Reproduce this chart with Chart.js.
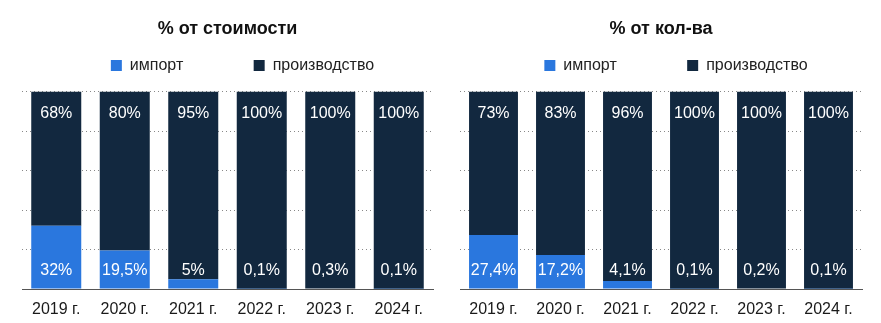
<!DOCTYPE html>
<html>
<head>
<meta charset="utf-8">
<script src="https://cdn.jsdelivr.net/npm/chart.js@4"></script>
<style>
  body { margin: 0; background: #fff; }
  .box { position: absolute; top: 0; height: 323px; }
</style>
</head>
<body>
<div class="box" style="left:0;width:440px"><canvas id="left" width="440" height="323"></canvas></div>
<div class="box" style="left:440px;width:441px"><canvas id="right" width="441" height="323"></canvas></div>
<script>
// data
var years = ["2019 г.", "2020 г.", "2021 г.", "2022 г.", "2023 г.", "2024 г."];

var costImport = [32, 19.5, 5, 0.1, 0.3, 0.1];
var costProd = [68, 80.5, 95, 99.9, 99.7, 99.9];
var costImportLabels = ["32%", "19,5%", "5%", "0,1%", "0,3%", "0,1%"];
var costProdLabels = ["68%", "80%", "95%", "100%", "100%", "100%"];

var qtyImport = [27.4, 17.2, 4.1, 0.1, 0.2, 0.1];
var qtyProd = [72.6, 82.8, 95.9, 99.9, 99.8, 99.9];
var qtyImportLabels = ["27,4%", "17,2%", "4,1%", "0,1%", "0,2%", "0,1%"];
var qtyProdLabels = ["73%", "83%", "96%", "100%", "100%", "100%"];

var blue = "#2a77de";
var navy = "#12283f";
var sans = "'Liberation Sans', Arial, sans-serif";

// white labels: import near the bottom, production near the top
var barLabels = {
    id: "barLabels",
    afterDatasetsDraw(chart, args, opts) {
        var ctx = chart.ctx;
        var y = chart.scales.y;
        ctx.save();
        ctx.fillStyle = "#fff";
        ctx.font = "16px " + sans;
        ctx.textAlign = "center";
        ctx.textBaseline = "middle";
        chart.getDatasetMeta(0).data.forEach(function (bar, i) {
            ctx.fillText(opts.bottom[i], bar.x, y.getPixelForValue(0) - 18);
        });
        chart.getDatasetMeta(1).data.forEach(function (bar, i) {
            ctx.fillText(opts.top[i], bar.x, y.getPixelForValue(100) + 22);
        });
        ctx.restore();
    }
};

// extra gap under the legend, and legend a bit right of the plot centre
var legendTweak = {
    id: "legendTweak",
    beforeInit(chart) {
        var fit = chart.legend.fit;
        chart.legend.fit = function () {
            fit.bind(chart.legend)();
            this.height += 8;
        };
    },
    afterLayout(chart) {
        chart.legend.left += 15;
        chart.legend.right += 15;
    }
};

function makeChart(id, title, imp, prod, impLabels, prodLabels, padL, padR) {
    return new Chart(document.getElementById(id), {
        type: "bar",
        data: {
            labels: years,
            datasets: [
                { label: "импорт", data: imp, backgroundColor: blue },
                { label: "производство", data: prod, backgroundColor: navy }
            ]
        },
        options: {
            responsive: false,
            animation: false,
            layout: { padding: { left: padL, right: padR, top: 0, bottom: 0 } },
            datasets: { bar: { categoryPercentage: 1, barPercentage: 0.73 } },
            plugins: {
                title: {
                    display: true,
                    text: title,
                    color: "#111",
                    font: { family: sans, size: 18, weight: "bold" },
                    padding: { top: 18, bottom: 0 }
                },
                legend: {
                    display: true,
                    labels: {
                        boxWidth: 11,
                        boxHeight: 11,
                        color: "#222",
                        font: { family: sans, size: 16 },
                        padding: 18,
                        generateLabels: function (chart) {
                            var items = Chart.defaults.plugins.legend.labels.generateLabels(chart);
                            items[0].text = items[0].text + "\u2003\u2003\u2003 ";
                            return items;
                        }
                    }
                },
                tooltip: { enabled: false },
                barLabels: { bottom: impLabels, top: prodLabels }
            },
            scales: {
                x: {
                    stacked: true,
                    grid: { display: false, drawTicks: false },
                    border: { display: true, color: "#555", width: 1 },
                    ticks: { color: "#1a1a1a", font: { family: sans, size: 16 }, padding: 11, maxRotation: 0, autoSkip: false },
                    afterFit: function (scale) { scale.height = 34; }
                },
                y: {
                    stacked: true,
                    min: 0,
                    max: 100,
                    ticks: { display: false, stepSize: 20 },
                    border: { display: false, dash: [1, 3] },
                    grid: { color: "#888", drawTicks: false, lineWidth: 1 }
                }
            }
        },
        plugins: [barLabels, legendTweak]
    });
}

makeChart("left", "% от стоимости", costImport, costProd, costImportLabels, costProdLabels, 22, 7);
makeChart("right", "% от кол-ва", qtyImport, qtyProd, qtyImportLabels, qtyProdLabels, 20, 19);
</script>
</body>
</html>
